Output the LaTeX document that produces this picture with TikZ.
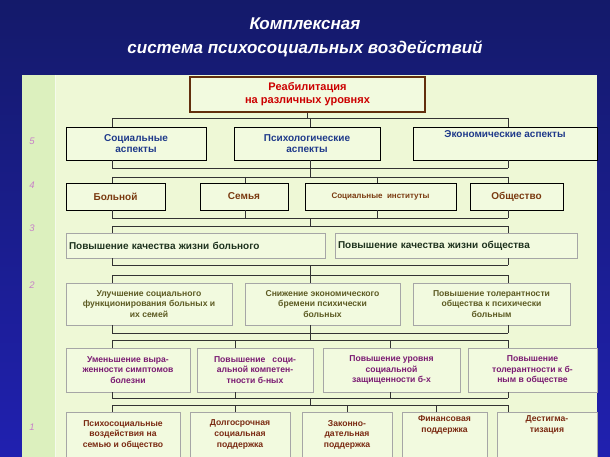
\documentclass[tikz,border=0pt]{standalone}
\usepackage{fontspec}
\setmainfont{Liberation Sans}
\begin{document}
\begin{tikzpicture}[x=1pt,y=-1pt,
  bx/.style={draw=#1,fill=boxfill,line width=0.8pt,inner sep=1pt,align=center,font=\bfseries\fontsize{10}{11.5}\selectfont},
  sm/.style={font=\bfseries\fontsize{8.6}{10.6}\selectfont},
  ln/.style={draw=black!80,line width=0.7pt},
  lvl/.style={font=\itshape\fontsize{9.5}{10}\selectfont,text=numc}]
\definecolor{boxfill}{HTML}{F2FADF}
\definecolor{panel}{HTML}{EEF8D6}
\definecolor{strip}{HTML}{DCF0BE}
\definecolor{numc}{HTML}{C880C8}
\definecolor{c5}{HTML}{1F3A8A}
\definecolor{c4}{HTML}{7A3A10}
\definecolor{c3}{HTML}{1E321E}
\definecolor{c2}{HTML}{5C5A22}
\definecolor{c1b}{HTML}{7A1A72}
\definecolor{c1a}{HTML}{7A2A12}
\definecolor{bgtop}{HTML}{141A6A}
\definecolor{bgbot}{HTML}{2020B0}
\shade[top color=bgtop,bottom color=bgbot] (0,0) rectangle (610,457);
\useasboundingbox (0,0) rectangle (610,457);
\node[text=white,font=\bfseries\itshape\fontsize{17}{24}\selectfont,align=center] (title) at (305,37) {Комплексная\\система психосоциальных воздействий};
\fill[panel] (22,75) rectangle (597,457);
\fill[strip] (22,75) rectangle (55,457);
\draw[white!70!strip] (55,75) -- (55,457);
\node[lvl] (l5) at (32,141) {5};
\node[lvl] (l4) at (32,185) {4};
\node[lvl] (l3) at (32,228) {3};
\node[lvl] (l2) at (32,285) {2};
\node[lvl] (l1) at (32,427) {1};
% nodes
\node[bx=c4!80!black,line width=1.6pt,minimum width=235pt,minimum height=35pt,text=red!80!black,font=\bfseries\fontsize{11}{13}\selectfont] (top) at (307.5,94.5) {Реабилитация\\на различных уровнях};
\node[bx=black,minimum width=140pt,minimum height=33pt,text=c5] (s1) at (136,143.5) {Социальные\\аспекты};
\node[bx=black,minimum width=146pt,minimum height=33pt,text=c5] (s2) at (307,143.5) {Психологические\\аспекты};
\node[bx=black,minimum width=184pt,minimum height=33pt,text=c5] (s3) at (505,143.5) {Экономические аспекты\\[8pt]};
\node[bx=black,minimum width=99pt,minimum height=27pt,text=c4] (r1) at (115.5,196.5) {Больной};
\node[bx=black,minimum width=88pt,minimum height=27pt,text=c4] (r2) at (244,196.5) {Семья};
\node[bx=black,minimum width=151pt,minimum height=27pt,text=c4,font=\bfseries\fontsize{8}{9}\selectfont] (r3) at (380.5,196.5) {Социальные\ \ институты};
\node[bx=black,minimum width=93pt,minimum height=27pt,text=c4] (r4) at (516.5,196.5) {Общество};
\node[bx=black!35,minimum width=259pt,minimum height=25pt,text=c3,font=\bfseries\fontsize{10}{11}\selectfont,text width=253pt,align=left] (q1) at (195.5,245.5) {Повышение качества жизни больного\\[5pt]};
\node[bx=black!35,minimum width=242pt,minimum height=25pt,text=c3,font=\bfseries\fontsize{10}{11}\selectfont,text width=236pt,align=left] (q2) at (456,245.5) {Повышение качества жизни общества\\[5pt]};
\node[bx=black!35,minimum width=166pt,minimum height=42pt,text=c2,sm] (p1) at (149,304) {Улучшение социального\\функционирования больных и\\их семей};
\node[bx=black!35,minimum width=155pt,minimum height=42pt,text=c2,sm] (p2) at (322.5,304) {Снижение экономического\\бремени психически\\больных};
\node[bx=black!35,minimum width=157pt,minimum height=42pt,text=c2,sm] (p3) at (491.5,304) {Повышение толерантности\\общества к психически\\больным};
\node[bx=black!35,minimum width=124pt,minimum height=44pt,text=c1b,sm] (m1) at (128,370) {Уменьшение выра-\\женности симптомов\\болезни};
\node[bx=black!35,minimum width=116pt,minimum height=44pt,text=c1b,sm] (m2) at (255,370) {Повышение\ \ \ соци-\\альной компетен-\\тности б-ных};
\node[bx=black!35,minimum width=137pt,minimum height=44pt,text=c1b,sm] (m3) at (391.5,370) {Повышение уровня\\социальной\\защищенности б-х};
\node[bx=black!35,minimum width=129pt,minimum height=44pt,text=c1b,sm] (m4) at (532.5,370) {Повышение\\толерантности к б-\\ным в обществе};
\node[bx=black!35,minimum width=114pt,minimum height=45pt,text=c1a,sm] (n1) at (123,434.5) {Психосоциальные\\воздействия на\\семью и общество};
\node[bx=black!35,minimum width=100pt,minimum height=45pt,text=c1a,sm] (n2) at (240,434.5) {Долгосрочная\\социальная\\поддержка};
\node[bx=black!35,minimum width=90pt,minimum height=45pt,text=c1a,sm] (n3) at (347,434.5) {Законно-\\дательная\\поддержка};
\node[bx=black!35,minimum width=85pt,minimum height=45pt,text=c1a,sm] (n4) at (444.5,434.5) {Финансовая\\поддержка\\[10pt]};
\node[bx=black!35,minimum width=100pt,minimum height=45pt,text=c1a,sm] (n5) at (547,434.5) {Дестигма-\\тизация\\[10pt]};
% coordinates
\coordinate (xa) at (112,0); \coordinate (xc) at (310,0); \coordinate (xb) at (508,0);
\coordinate (x4b) at (245,0); \coordinate (x4c) at (377,0);
\coordinate (x1b) at (235,0); \coordinate (x1c) at (390,0); \coordinate (x1d) at (436,0);
\coordinate (b1) at (0,118);
\coordinate (b2) at (0,168); \coordinate (b3) at (0,177);
\coordinate (b4) at (0,218); \coordinate (b5) at (0,226);
\coordinate (b6) at (0,265); \coordinate (b7) at (0,275);
\coordinate (b8) at (0,333); \coordinate (b9) at (0,340);
\coordinate (b10) at (0,398); \coordinate (b11) at (0,405);
% connectors
\draw[ln] (top.south) -- (top.south |- b1);
\draw[ln] (xa|-b1) -- (xb|-b1);
\foreach \n/\x in {s1/xa,s2/xc,s3/xb} \draw[ln] (\x|-b1) -- (\x|-\n.north);
\foreach \n/\x in {s1/xa,s2/xc,s3/xb} \draw[ln] (\x|-\n.south) -- (\x|-b2);
\draw[ln] (xa|-b2) -- (xb|-b2); \draw[ln] (xc|-b2) -- (xc|-b3);
\draw[ln] (xa|-b3) -- (xb|-b3);
\foreach \n/\x in {r1/xa,r2/x4b,r3/x4c,r4/xb} \draw[ln] (\x|-b3) -- (\x|-\n.north);
\foreach \n/\x in {r1/xa,r2/x4b,r3/x4c,r4/xb} \draw[ln] (\x|-\n.south) -- (\x|-b4);
\draw[ln] (xa|-b4) -- (xb|-b4); \draw[ln] (xc|-b4) -- (xc|-b5);
\draw[ln] (xa|-b5) -- (xb|-b5);
\foreach \n/\x in {q1/xa,q2/xb} \draw[ln] (\x|-b5) -- (\x|-\n.north);
\foreach \n/\x in {q1/xa,q2/xb} \draw[ln] (\x|-\n.south) -- (\x|-b6);
\draw[ln] (xa|-b6) -- (xb|-b6); \draw[ln] (xc|-b6) -- (xc|-b7);
\draw[ln] (xa|-b7) -- (xb|-b7);
\foreach \n/\x in {p1/xa,p2/xc,p3/xb} \draw[ln] (\x|-b7) -- (\x|-\n.north);
\foreach \n/\x in {p1/xa,p2/xc,p3/xb} \draw[ln] (\x|-\n.south) -- (\x|-b8);
\draw[ln] (xa|-b8) -- (xb|-b8); \draw[ln] (xc|-b8) -- (xc|-b9);
\draw[ln] (xa|-b9) -- (xb|-b9);
\foreach \n/\x in {m1/xa,m2/x1b,m3/x1c,m4/xb} \draw[ln] (\x|-b9) -- (\x|-\n.north);
\foreach \n/\x in {m1/xa,m2/x1b,m3/x1c,m4/xb} \draw[ln] (\x|-\n.south) -- (\x|-b10);
\draw[ln] (xa|-b10) -- (xb|-b10); \draw[ln] (xc|-b10) -- (xc|-b11);
\draw[ln] (xa|-b11) -- (xb|-b11);
\foreach \n/\x in {n1/xa,n2/x1b,n4/x1d,n5/xb} \draw[ln] (\x|-b11) -- (\x|-\n.north);
\draw[ln] (n3.north|-b11) -- (n3.north);
\end{tikzpicture}
\end{document}
